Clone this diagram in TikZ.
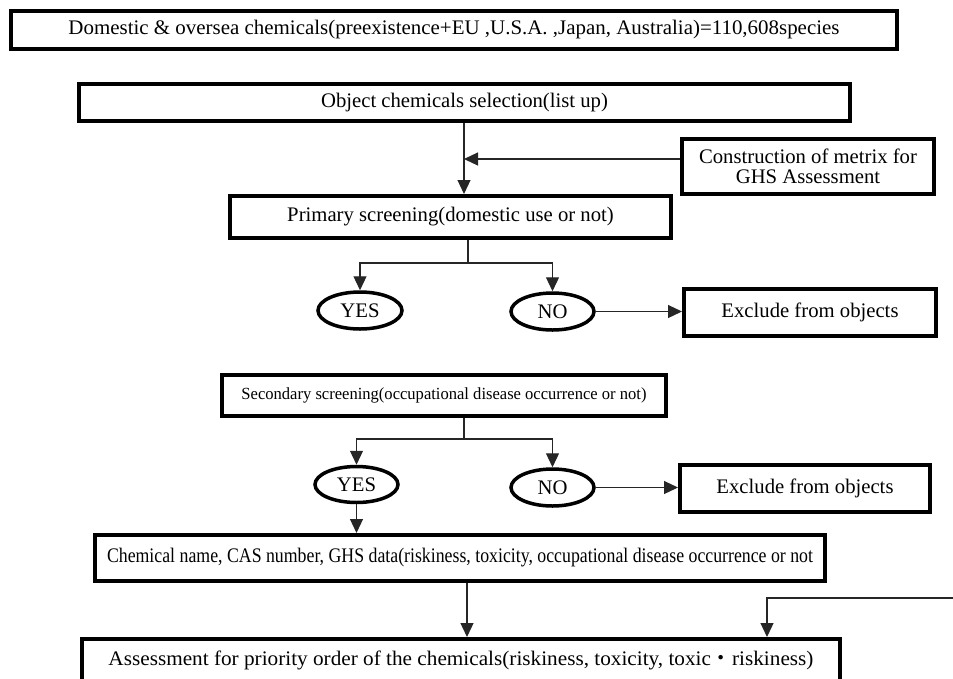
\documentclass[tikz,border=0pt]{standalone}
\usepackage{fontspec}
\setmainfont{Liberation Serif}
\newfontfamily\cjk{Noto Sans CJK JP}
\usetikzlibrary{arrows.meta,shapes.geometric}
\newcommand\fitto[2]{\resizebox{#1}{\height}{#2}}
\tikzset{
  box/.style={draw, line width=4pt, rectangle, inner sep=0pt, align=center,
              font=\fontsize{20.7}{20}\selectfont},
  oval/.style={draw, line width=3.5pt, ellipse, inner sep=0pt,
              font=\fontsize{20.7}{20}\selectfont},
  conn/.style={line width=1.2pt, draw=black!85},
  arr/.style={conn, -{Triangle[length=14pt,width=13pt]}}
}
\begin{document}
\begin{tikzpicture}[x=1pt,y=-1pt]
\useasboundingbox (0,0) rectangle (953,678);
\clip (0,0) rectangle (953,678);
\node[box, minimum width=886pt, minimum height=38pt] (b1) at (454,30)
  {\fitto{771pt}{Domestic \& oversea chemicals(preexistence+EU ,U.S.A. ,Japan, Australia)=110,608species}};
\node[box, minimum width=771pt, minimum height=37pt] (b2) at (464.5,102.5)
  {Object chemicals selection(list up)};
\node[box, minimum width=252pt, minimum height=55pt] (cons) at (808,166.5)
  {Construction of metrix for\\GHS Assessment};
\node[box, minimum width=441pt, minimum height=42pt] (prim) at (450.5,217)
  {Primary screening(domestic use or not)};
\node[oval, minimum width=84pt, minimum height=37pt] (yes1) at (360,310.5) {YES};
\node[oval, minimum width=83pt, minimum height=37pt] (no1) at (552.5,311.5) {NO};
\node[box, minimum width=252pt, minimum height=47pt] (exc1) at (810,312.5) {Exclude from objects};
\node[box, minimum width=444pt, minimum height=41pt] (sec) at (444,395.5)
  {\fontsize{17}{17}\selectfont\fitto{405pt}{Secondary screening(occupational disease occurrence or not)}};
\node[oval, minimum width=83pt, minimum height=36pt] (yes2) at (356.5,484.5) {YES};
\node[oval, minimum width=83pt, minimum height=37pt] (no2) at (552.5,487.5) {NO};
\node[box, minimum width=250pt, minimum height=47pt] (exc2) at (805,488) {Exclude from objects};
\node[box, minimum width=730pt, minimum height=46pt] (chem) at (460,558)
  {\fitto{706pt}{Chemical name, CAS number, GHS data(riskiness, toxicity, occupational disease occurrence or not}};
\node[box, minimum width=758pt, minimum height=43pt] (ass) at (461,660.5)
  {\fitto{705pt}{Assessment for priority order of the chemicals(riskiness, toxicity, toxic{\cjk ・}riskiness)}};
% connectors
\coordinate (j1) at (464,159);
\draw[arr] (b2.south -| j1) -- (prim.north -| j1);
\draw[arr] (cons.west |- j1) -- (j1);
\coordinate (s1) at (468,263);
\draw[conn] (prim.south -| s1) -- (s1);
\draw[arr] (s1) -| (yes1.north);
\draw[arr] (s1) -| (no1.north);
\draw[arr] (no1.east) -- (exc1.west |- no1.east);
\coordinate (s2) at (464,439);
\draw[conn] (sec.south -| s2) -- (s2);
\draw[arr] (s2) -| (yes2.north);
\draw[arr] (s2) -| (no2.north);
\draw[arr] (no2.east) -- (exc2.west |- no2.east);
\draw[arr] (yes2.south) -- (chem.north -| yes2.south);
\coordinate (s3) at (467,600);
\draw[arr] (chem.south -| s3) -- (ass.north -| s3);
\coordinate (r1) at (953,598);
\coordinate (r2) at (767,598);
\draw[arr] (r1) -- (r2) -- (ass.north -| r2);
\end{tikzpicture}
\end{document}
